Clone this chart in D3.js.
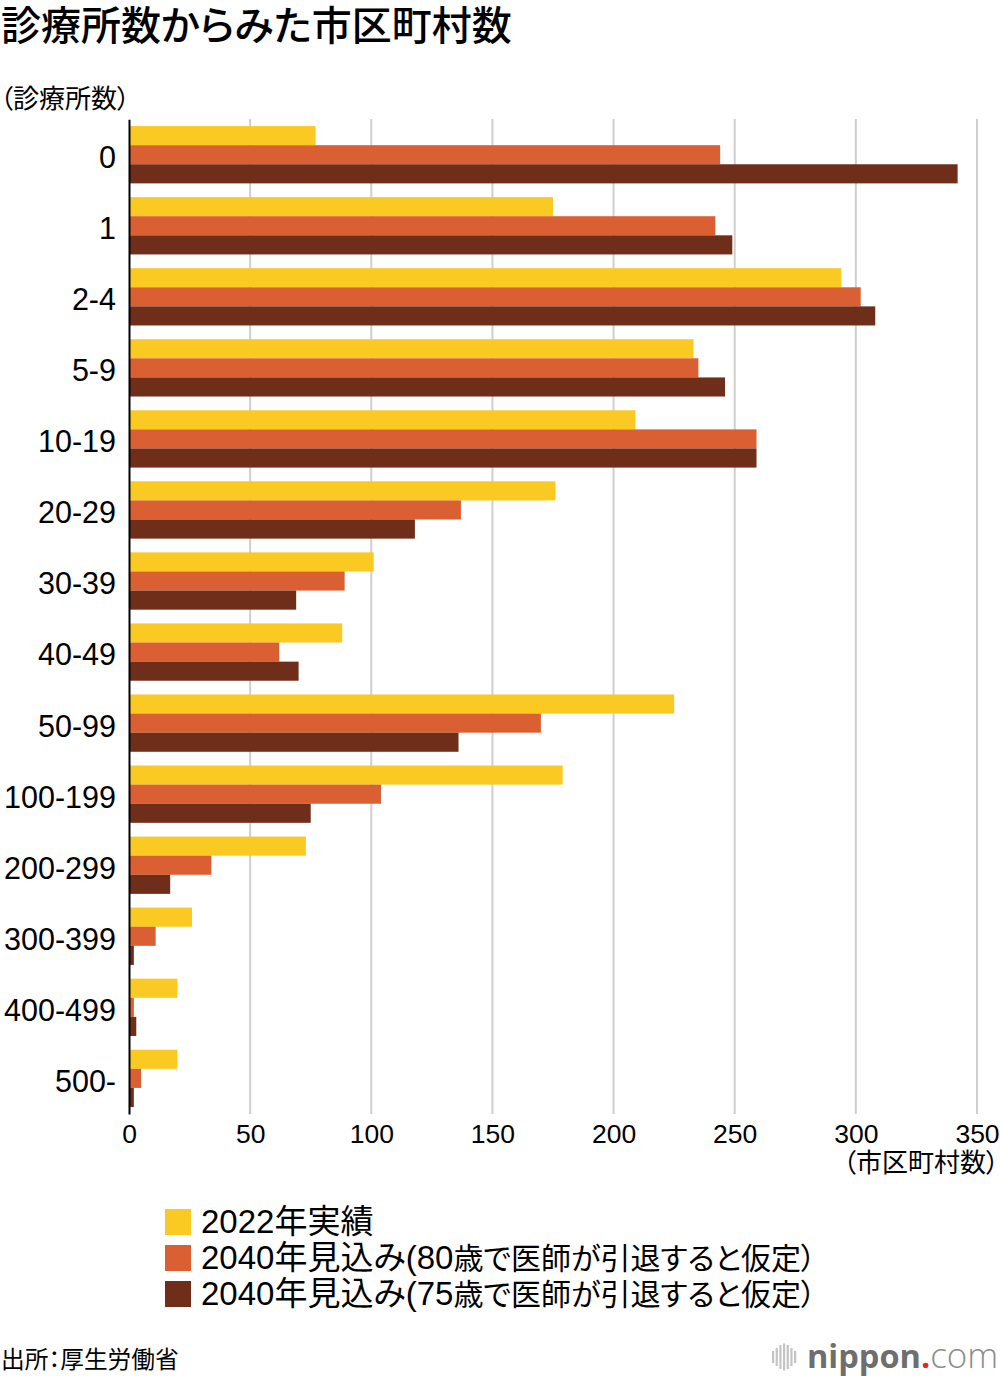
<!DOCTYPE html>
<html lang="ja">
<head>
<meta charset="utf-8">
<script src="https://cdn.jsdelivr.net/npm/d3@7"></script>
<style>
  html, body { margin: 0; padding: 0; background: #fff; }
  svg { display: block; }
  text { font-family: "Liberation Sans", "Noto Sans CJK JP", sans-serif; fill: #000; font-feature-settings: "palt"; }
</style>
</head>
<body>
<div id="chart"></div>
<script>
const categories = ["0", "1", "2-4", "5-9", "10-19", "20-29", "30-39", "40-49", "50-99", "100-199", "200-299", "300-399", "400-499", "500-"]
const actual2022 = [77, 175, 294, 233, 209, 176, 101, 88, 225, 179, 73, 26, 20, 20]
const retire80 = [244, 242, 302, 235, 259, 137, 89, 62, 170, 104, 34, 11, 2, 5]
const retire75 = [342, 249, 308, 246, 259, 118, 69, 70, 136, 75, 17, 2, 3, 2]
const xTicks = [0, 50, 100, 150, 200, 250, 300, 350]
const seriesHeads = ["2022年実績", "2040年見込み(80", "2040年見込み(75"]
const seriesTails = ["", "歳で医師が引退すると仮定）", "歳で医師が引退すると仮定）"]
const seriesColors = ["#fac922", "#da5f32", "#6e2e1a"]
const logoBars = [12, 18, 24, 27, 24, 18, 12]

const width = 1000, height = 1382
const svg = d3.select("#chart").append("svg").attr("width", width).attr("height", height)

const x = d3.scaleLinear().domain([0, 350]).range([129, 977])
const y = d3.scaleBand().domain(categories).range([119.2, 1113.9]).paddingInner(0.1935).paddingOuter(0.0968)
const inner = d3.scaleBand().domain([0, 1, 2]).range([0, y.bandwidth()])

// title + unit labels
svg.append("text").attr("x", 1).attr("y", 40).attr("font-size", 40).attr("font-weight", 500)
  .text("診療所数からみた市区町村数")
svg.append("text").attr("x", 0).attr("y", 108).attr("font-size", 26).text("（診療所数）")

// grid
svg.append("g").selectAll("line").data(xTicks.slice(1)).enter().append("line")
  .attr("x1", d => x(d)).attr("x2", d => x(d))
  .attr("y1", 119).attr("y2", 1114)
  .attr("stroke", "#cfcfcf").attr("stroke-width", 2)

// bars
const series = [actual2022, retire80, retire75]
series.forEach((values, s) => {
  svg.append("g").selectAll("rect").data(values).enter().append("rect")
    .attr("x", x(0))
    .attr("y", (d, i) => y(categories[i]) + inner(s))
    .attr("width", d => x(d) - x(0))
    .attr("height", inner.bandwidth())
    .attr("fill", seriesColors[s])
})

// axes
const yAxis = svg.append("g").attr("transform", `translate(${x(0)},0)`)
  .call(d3.axisLeft(y).tickSize(0).tickPadding(13))
yAxis.select(".domain").attr("stroke", "#000").attr("stroke-width", 2)
yAxis.attr("font-family", null)
yAxis.selectAll("text").attr("font-size", 30.5).attr("fill", "#000").attr("dy", "0.44em")

const xAxis = svg.append("g").attr("transform", "translate(0,1114)")
  .call(d3.axisBottom(x).tickValues(xTicks).tickSize(0).tickPadding(10))
xAxis.select(".domain").remove()
xAxis.attr("font-family", null)
xAxis.selectAll("text").attr("font-size", 26.5).attr("fill", "#000")

svg.append("text").attr("x", 999).attr("y", 1172).attr("font-size", 26).attr("text-anchor", "end")
  .text("（市区町村数）")

// legend
const legendY = d3.scaleBand().domain(d3.range(seriesHeads.length)).range([1204, 1312])
const legend = svg.append("g").selectAll("g").data(seriesHeads).enter().append("g")
  .attr("transform", (d, i) => `translate(165,${legendY(i)})`)
legend.append("rect").attr("y", 5).attr("width", 26).attr("height", 26)
  .attr("fill", (d, i) => seriesColors[i])
const legendText = legend.append("text").attr("x", 36).attr("y", 29).attr("font-size", 33).text(d => d)
legendText.append("tspan").attr("font-size", 30).text((d, i) => seriesTails[i])

// source
svg.append("text").attr("x", 1).attr("y", 1368).attr("font-size", 23.7).text("出所：厚生労働省")

// logo
const logoX = d3.scaleLinear().domain([0, logoBars.length - 1]).range([773, 795])
svg.append("g").selectAll("rect").data(logoBars).enter().append("rect")
  .attr("x", (d, i) => logoX(i) - 1)
  .attr("y", d => 1357 - d / 2)
  .attr("width", 2.2)
  .attr("height", d => d)
  .attr("fill", "#c4c4c4")
const logo = svg.append("text").attr("x", 807).attr("y", 1368).attr("font-size", 32.5)
  .style("font-family", "'Open Sans', sans-serif")
logo.append("tspan").attr("font-weight", 700).style("fill", "#6e6e6e").text("nippon")
logo.append("tspan").style("fill", "#e8212b").attr("font-weight", 700).text(".")
logo.append("tspan").attr("font-weight", 300).attr("font-size", 35).style("fill", "#8c8c8c").text("com")
</script>
</body>
</html>
